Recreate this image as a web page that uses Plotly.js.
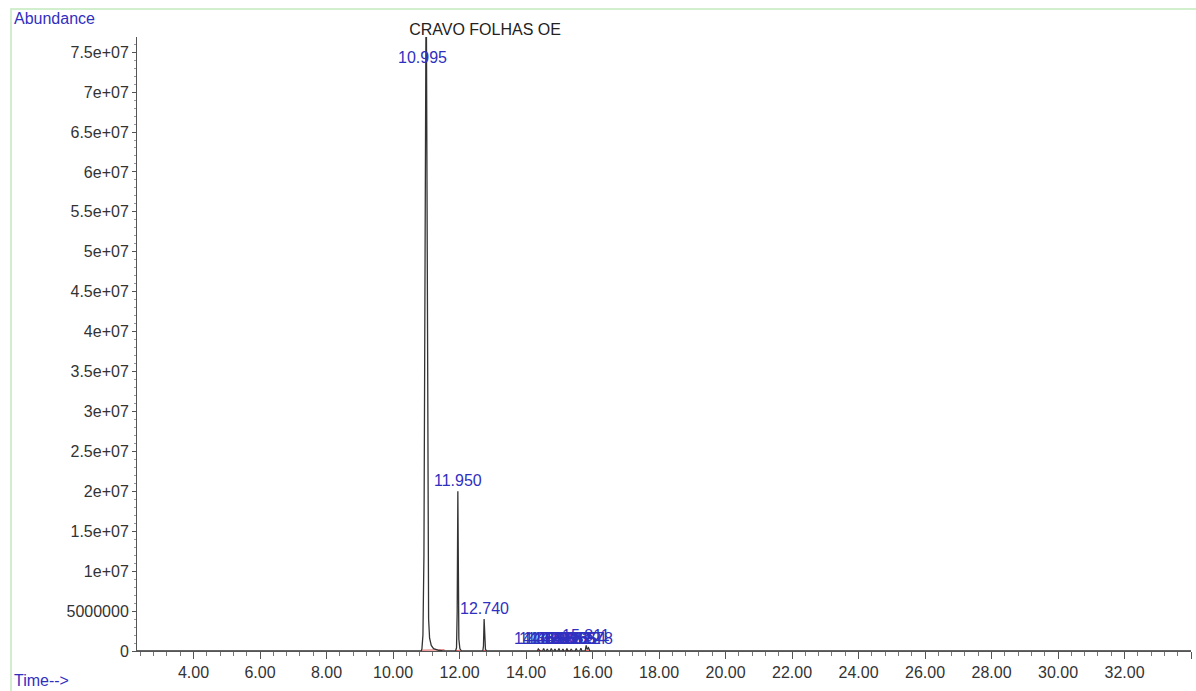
<!DOCTYPE html>
<html>
<head>
<meta charset="utf-8">
<script src="https://cdn.plot.ly/plotly-3.0.1.min.js"></script>
<style>
  html, body { margin: 0; padding: 0; background: #fff; }
  #chart { width: 1196px; height: 691px; }
</style>
</head>
<body>
<div id="chart"></div>
<script>
// ---- Data ----
const chartTitle = "CRAVO FOLHAS OE";

// Total ion chromatogram: retention time (min) and abundance
const retentionTime = [
  2.30, 10.85, 10.87, 10.90, 10.93, 10.95, 10.97, 10.99, 11.005, 11.02, 11.035, 11.05, 11.07, 11.10, 11.15, 11.22, 11.35, 11.50,
  11.88, 11.91, 11.93, 11.95, 11.965, 11.98, 12.01, 12.06,
  12.70, 12.72, 12.74, 12.755, 12.78, 12.82,
  14.34, 14.37, 14.39, 14.42, 14.50, 14.53, 14.56, 14.61, 14.64, 14.67, 14.73, 14.76, 14.79,
  14.84, 14.87, 14.90, 14.96, 14.99, 15.02, 15.08, 15.11, 15.14, 15.20, 15.23, 15.26,
  15.33, 15.36, 15.39, 15.48, 15.51, 15.54, 15.62, 15.65, 15.68, 15.78, 15.81, 15.84, 15.88, 15.92,
  34.00
];
const abundance = [
  0, 0, 3.0e5, 2.0e6, 1.2e7, 4.0e7, 6.8e7, 7.8e7, 7.8e7, 6.0e7, 3.2e7, 1.2e7, 4.0e6, 1.6e6, 7.0e5, 3.0e5, 1.0e5, 0,
  0, 4.0e5, 5.0e6, 2.0e7, 9.0e6, 1.5e6, 3.0e5, 0,
  0, 6.0e5, 4.0e6, 1.2e6, 2.0e5, 0,
  0, 2.5e5, 1.0e5, 0, 0, 3.0e5, 0, 0, 2.5e5, 0, 0, 3.0e5, 0,
  0, 2.5e5, 0, 0, 3.0e5, 0, 0, 2.5e5, 0, 0, 3.0e5, 0,
  0, 2.5e5, 0, 0, 3.0e5, 0, 0, 3.5e5, 0, 0, 7.0e5, 2.0e5, 4.0e5, 0,
  0
];

// Red integration baselines (null separates segments)
const baselineTime = [10.86, 11.55, null, 11.89, 12.04, null, 12.71, 12.80, null, 14.35, 14.45, null, 15.20, 15.30, null, 15.77, 15.93];
const baselineAbund = [1.0e5, 1.5e5, null, 5.0e4, 1.0e5, null, 5.0e4, 8.0e4, null, 5.0e4, 8.0e4, null, 5.0e4, 8.0e4, null, 5.0e4, 1.0e5];

// Peak labels
const peakLabels = ["10.995", "11.950", "12.740", "14.381", "14.529", "14.641", "14.758", "14.872", "14.986",
                    "15.108", "15.232", "15.365", "15.512", "15.654", "15.811", "15.878"];
const peakLabelX = [10.995, 11.950, 12.740, 14.381, 14.529, 14.641, 14.758, 14.872, 14.986,
                    15.108, 15.232, 15.365, 15.512, 15.654, 15.811, 15.878];
const peakLabelY = [7.3e7, 2.0e7, 4.0e6, 2.0e5, 2.0e5, 2.0e5, 2.0e5, 2.0e5, 2.0e5,
                    2.0e5, 2.0e5, 2.0e5, 2.0e5, 2.0e5, 6.0e5, 2.0e5];

// Axis ticks
const xTickVals = [4, 6, 8, 10, 12, 14, 16, 18, 20, 22, 24, 26, 28, 30, 32, 34];
const xTickText = ["4.00", "6.00", "8.00", "10.00", "12.00", "14.00", "16.00", "18.00", "20.00",
                   "22.00", "24.00", "26.00", "28.00", "30.00", "32.00", ""];
const yTickVals = [0, 5e6, 1e7, 1.5e7, 2e7, 2.5e7, 3e7, 3.5e7, 4e7, 4.5e7, 5e7, 5.5e7, 6e7, 6.5e7, 7e7, 7.5e7];
const yTickText = ["0", "5000000", "1e+07", "1.5e+07", "2e+07", "2.5e+07", "3e+07", "3.5e+07", "4e+07",
                   "4.5e+07", "5e+07", "5.5e+07", "6e+07", "6.5e+07", "7e+07", "7.5e+07"];

// ---- Figure ----
const FONT = "Liberation Sans, Arial, sans-serif";
const BLUE = "#3030c0";

const traces = [
  {
    x: baselineTime, y: baselineAbund, type: "scatter", mode: "lines",
    line: { color: "#e05a5a", width: 1 }, connectgaps: false, hoverinfo: "skip"
  },
  {
    x: retentionTime, y: abundance, type: "scatter", mode: "lines",
    line: { color: "#333333", width: 1.3 }
  }
];

const annotations = peakLabels.map((t, i) => ({
  x: peakLabelX[i], y: peakLabelY[i], xref: "x", yref: "y",
  text: t, showarrow: false, xanchor: "center", yanchor: "bottom",
  xshift: i === 0 ? -4 : 0,
  font: { family: FONT, size: 16, color: BLUE }
}));

// Plot area: left 137, right 1191, top 37, bottom 651
const pw = 1054, ph = 614;
annotations.push({
  xref: "paper", yref: "paper", x: (12 - 137) / pw, y: (651 - 19) / ph,
  xanchor: "left", yanchor: "middle", showarrow: false, text: "Abundance",
  font: { family: FONT, size: 16, color: BLUE }
});
annotations.push({
  xref: "paper", yref: "paper", x: (12 - 137) / pw, y: (651 - 680) / ph,
  xanchor: "left", yanchor: "middle", showarrow: false, text: "Time-->",
  font: { family: FONT, size: 16, color: BLUE }
});

const layout = {
  width: 1196, height: 691,
  margin: { l: 137, r: 5, t: 37, b: 40, pad: 0 },
  paper_bgcolor: "#ffffff", plot_bgcolor: "#ffffff",
  showlegend: false,
  title: {
    text: chartTitle, x: 485 / 1196, xanchor: "center", xref: "container",
    y: 1 - 29 / 691, yanchor: "middle", yref: "container",
    font: { family: FONT, size: 16, color: "#222222" }
  },
  xaxis: {
    range: [2.3, 34.0], showgrid: false, zeroline: false,
    showline: true, linecolor: "#555555", linewidth: 1,
    tickmode: "array", tickvals: xTickVals, ticktext: xTickText,
    ticks: "outside", ticklen: 7, tickcolor: "#555555", tickwidth: 1,
    minor: { tickmode: "linear", tick0: 0, dtick: 0.4, ticks: "outside", ticklen: 4, tickcolor: "#777777", showgrid: false },
    tickfont: { family: FONT, size: 16, color: "#333333" }
  },
  yaxis: {
    range: [0, 7.69e7], showgrid: false, zeroline: false,
    showline: true, linecolor: "#555555", linewidth: 1,
    tickmode: "array", tickvals: yTickVals, ticktext: yTickText,
    ticks: "outside", ticklen: 4, tickcolor: "#555555", tickwidth: 1,
    minor: { tickmode: "linear", tick0: 0, dtick: 1e6, ticks: "outside", ticklen: 2, tickcolor: "#999999", showgrid: false },
    tickfont: { family: FONT, size: 16, color: "#333333" }
  },
  annotations: annotations,
  shapes: [
    {
      type: "rect", xref: "paper", yref: "paper",
      x0: (11 - 137) / pw, x1: (1210 - 137) / pw,
      y0: (651 - 720) / ph, y1: (651 - 9) / ph,
      line: { color: "#c2eabc", width: 1.5 }, fillcolor: "rgba(0,0,0,0)", layer: "below"
    }
  ]
};

Plotly.newPlot("chart", traces, layout, { displayModeBar: false, staticPlot: true });
</script>
</body>
</html>
